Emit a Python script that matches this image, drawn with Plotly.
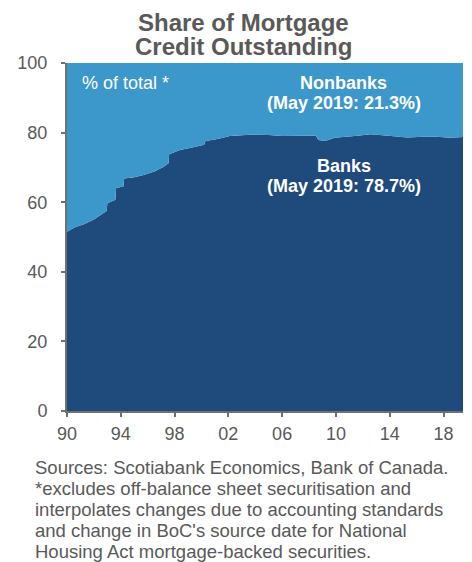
import plotly.graph_objects as go

# Decimal-year dates and banks' share of mortgage credit (%)
dates = [1990.0, 1990.6, 1991.3, 1992.0, 1992.5, 1992.95, 1993.0, 1993.6, 1993.65,
         1994.2, 1994.25, 1995.0, 1995.7, 1996.5, 1997.2, 1997.55, 1997.6, 1998.4,
         1999.4, 2000.2, 2000.3, 2001.0, 2001.6, 2002.1, 2003.6, 2005.0, 2006.0,
         2007.5, 2008.5, 2008.7, 2009.2, 2009.9, 2011.4, 2012.6, 2013.9, 2015.3,
         2016.5, 2017.5, 2018.5, 2019.45]
banks = [51.5, 52.8, 53.7, 55.0, 56.3, 57.5, 59.7, 60.7, 64.0,
         64.6, 66.8, 67.2, 67.8, 68.8, 70.2, 71.2, 73.8, 75.0,
         75.8, 76.5, 77.6, 78.0, 78.5, 79.0, 79.4, 79.3, 79.0,
         79.1, 79.1, 77.9, 77.6, 78.5, 79.0, 79.5, 79.1, 78.6,
         78.8, 78.8, 78.5, 78.7]
nonbanks = [round(100 - b, 2) for b in banks]

tick_vals = [1990, 1994, 1998, 2002, 2006, 2010, 2014, 2018]
tick_text = ["90", "94", "98", "02", "06", "10", "14", "18"]
y_ticks = [0, 20, 40, 60, 80, 100]

title_lines = ["Share of Mortgage", "Credit Outstanding"]
note_lines = ["Sources: Scotiabank Economics, Bank of Canada.",
              "*excludes off-balance sheet securitisation and",
              "interpolates changes due to accounting standards",
              "and change in BoC's source date for National",
              "Housing Act mortgage-backed securities."]

DARK = "#1F4A7C"
LIGHT = "#3C97CB"
GRAY = "#595959"
AXIS = "#707070"
FONT = "Liberation Sans, Arial, sans-serif"

# page body has an 8px margin; size the figure so the plot sits where the reference has it
OFF = 8
W, H = 472 - OFF, 562 - OFF
ML, MR, MT, MB = 62 - OFF, 9, 63 - OFF, 151
PW, PH = W - ML - MR, H - MT - MB


def px(wx):
    return (wx - OFF - ML) / PW


def py(wy):
    return (H - MB - (wy - OFF)) / PH


fig = go.Figure()
fig.add_trace(go.Scatter(x=dates, y=banks, stackgroup="s", mode="none",
                         fillcolor=DARK, name="Banks", line=dict(width=0)))
fig.add_trace(go.Scatter(x=dates, y=nonbanks, stackgroup="s", mode="none",
                         fillcolor=LIGHT, name="Nonbanks", line=dict(width=0)))

fig.update_layout(
    width=W, height=H,
    margin=dict(l=ML, r=MR, t=MT, b=MB, pad=0),
    paper_bgcolor="white", plot_bgcolor="white",
    showlegend=False,
    font=dict(family=FONT, color=GRAY, size=18),
    xaxis=dict(range=[1990, 2019.45], tickvals=tick_vals, ticktext=tick_text,
               showgrid=False, zeroline=False, showline=True, linecolor=AXIS,
               linewidth=2, ticks="outside", ticklen=4, tickcolor=AXIS,
               tickwidth=1.5, ticklabelstandoff=1,
               tickfont=dict(size=18, color=GRAY)),
    yaxis=dict(range=[0, 100], tickvals=y_ticks, showgrid=False, zeroline=False,
               showline=True, linecolor=AXIS, linewidth=2, ticks="outside",
               ticklen=4, tickcolor=AXIS, tickwidth=1.5, ticklabelstandoff=10,
               tickfont=dict(size=18, color=GRAY)),
)

# title, two tightly spaced lines
for text, wy in zip(title_lines, [22.0, 46.5]):
    fig.add_annotation(x=px(241), y=py(wy), xref="paper", yref="paper",
                       text="<b>" + text + "</b>", showarrow=False,
                       xanchor="center", yanchor="middle",
                       font=dict(size=24, color=GRAY, family=FONT))

fig.add_annotation(x=px(75), y=py(83), xref="paper", yref="paper",
                   text="% of total *", showarrow=False, xanchor="left",
                   yanchor="middle", font=dict(size=18, color="white", family=FONT))
for text, wy in [("Nonbanks", 83), ("(May 2019: 21.3%)", 103),
                 ("Banks", 166), ("(May 2019: 78.7%)", 186)]:
    fig.add_annotation(x=px(342), y=py(wy), xref="paper", yref="paper",
                       text="<b>" + text + "</b>", showarrow=False,
                       xanchor="center", yanchor="middle",
                       font=dict(size=18, color="white", family=FONT))

for i, text in enumerate(note_lines):
    fig.add_annotation(x=px(28), y=py(467.5 + 21.0 * i), xref="paper", yref="paper",
                       text=text, showarrow=False, xanchor="left", yanchor="middle",
                       font=dict(size=18.5, color=GRAY, family=FONT))

fig.write_html("out.html")
